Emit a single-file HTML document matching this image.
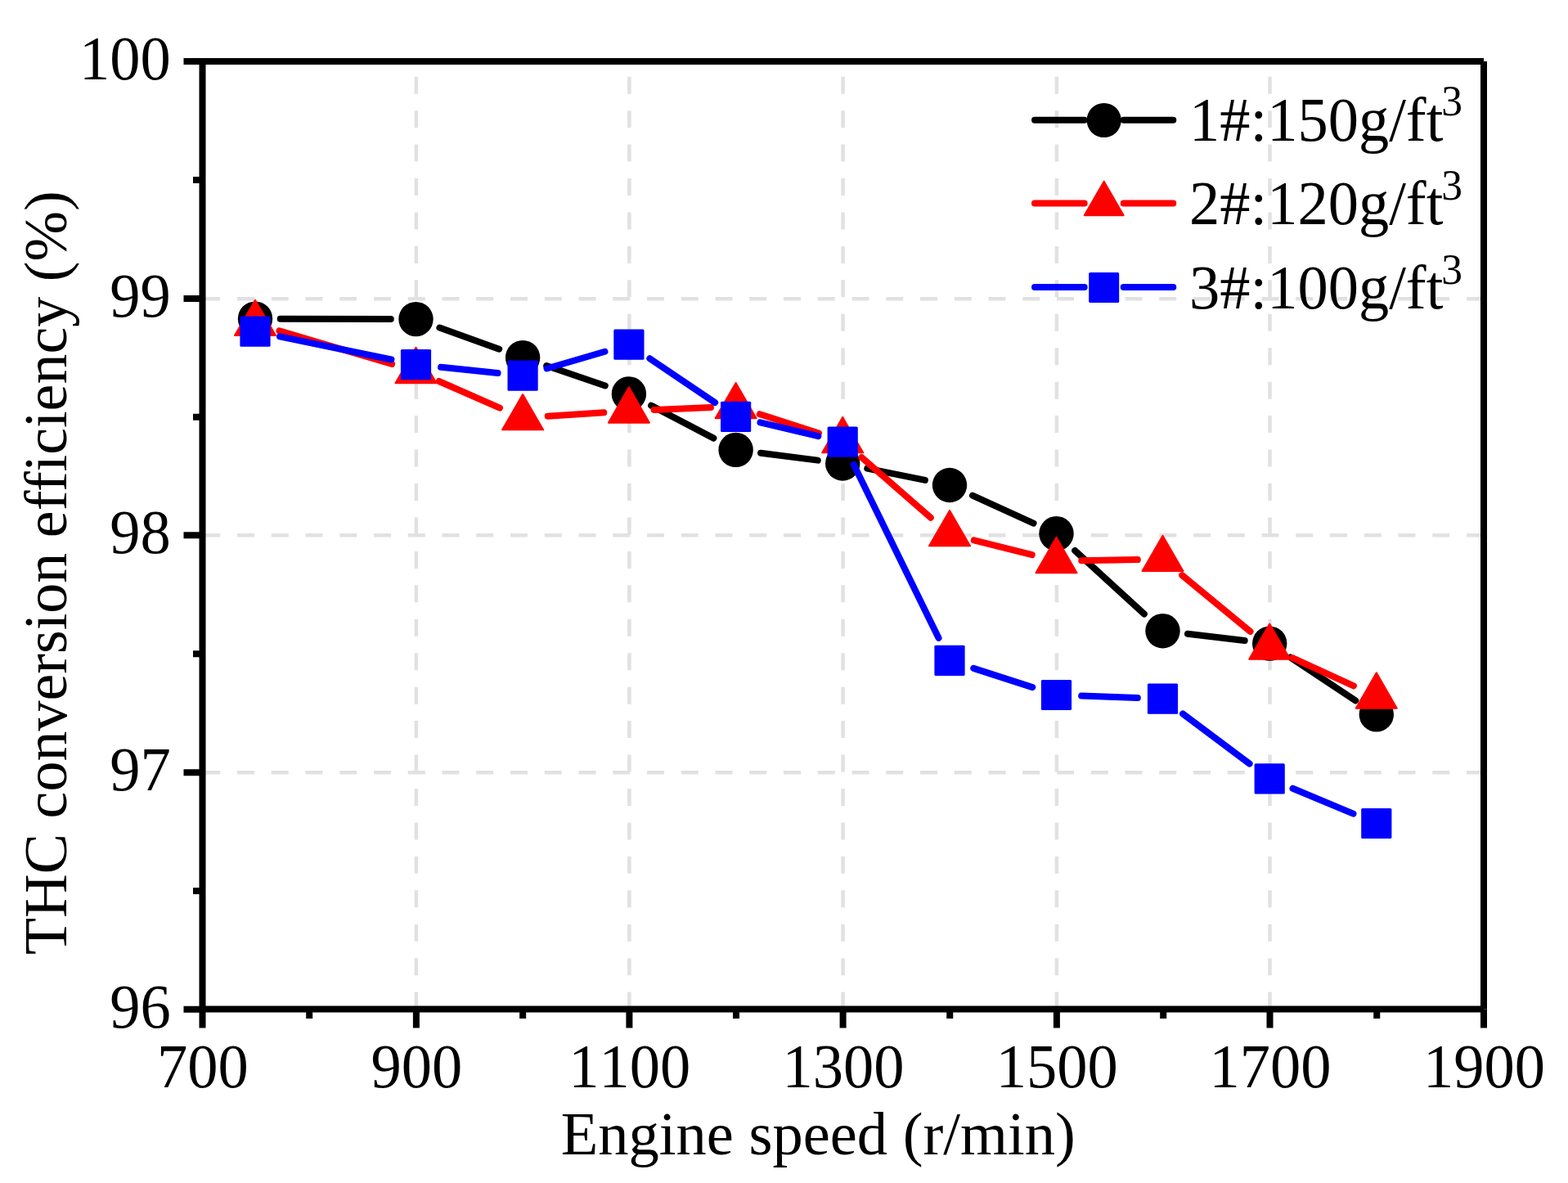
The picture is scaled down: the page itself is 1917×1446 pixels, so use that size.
<!DOCTYPE html><html><head><meta charset="utf-8"><style>html,body{margin:0;padding:0;background:#fff;}svg{display:block;}text{font-family:"Liberation Serif","Times New Roman",serif;fill:#000;font-kerning:none;font-feature-settings:"kern" 0;}</style></head><body>
<svg width="1917" height="1446" viewBox="0 0 1917 1446">
<rect x="0" y="0" width="1917" height="1446" fill="#fff"/>
<line x1="508.90" y1="1233.60" x2="508.90" y2="75.10" stroke="#e1e1e1" stroke-width="4.5" stroke-dasharray="21 20.44"/>
<line x1="769.40" y1="1233.60" x2="769.40" y2="75.10" stroke="#e1e1e1" stroke-width="4.5" stroke-dasharray="21 20.44"/>
<line x1="1030.60" y1="1233.60" x2="1030.60" y2="75.10" stroke="#e1e1e1" stroke-width="4.5" stroke-dasharray="21 20.44"/>
<line x1="1291.90" y1="1233.60" x2="1291.90" y2="75.10" stroke="#e1e1e1" stroke-width="4.5" stroke-dasharray="21 20.44"/>
<line x1="1552.50" y1="1233.60" x2="1552.50" y2="75.10" stroke="#e1e1e1" stroke-width="4.5" stroke-dasharray="21 20.44"/>
<line x1="1814.00" y1="365.15" x2="247.50" y2="365.15" stroke="#e1e1e1" stroke-width="4.5" stroke-dasharray="21 20.75"/>
<line x1="1814.00" y1="654.35" x2="247.50" y2="654.35" stroke="#e1e1e1" stroke-width="4.5" stroke-dasharray="21 20.75"/>
<line x1="1814.00" y1="944.35" x2="247.50" y2="944.35" stroke="#e1e1e1" stroke-width="4.5" stroke-dasharray="21 20.75"/>
<path d="M342.70 389.68L477.80 390.02M537.39 400.50L610.21 426.70M668.15 447.02L739.85 471.48M796.09 495.65L872.41 535.65M930.05 553.77L999.75 562.63M1060.29 572.60L1130.91 586.90M1188.96 605.68L1263.54 639.52M1314.15 672.93L1398.85 750.47M1451.99 774.79L1521.71 783.01M1577.78 803.58L1657.22 856.32" fill="none" stroke="#000" stroke-width="8" stroke-linecap="round"/>
<circle cx="312.00" cy="389.60" r="21.2" fill="#000"/>
<circle cx="508.50" cy="390.10" r="21.2" fill="#000"/>
<circle cx="639.10" cy="437.10" r="21.2" fill="#000"/>
<circle cx="768.90" cy="481.40" r="21.2" fill="#000"/>
<circle cx="899.60" cy="549.90" r="21.2" fill="#000"/>
<circle cx="1030.20" cy="566.50" r="21.2" fill="#000"/>
<circle cx="1161.00" cy="593.00" r="21.2" fill="#000"/>
<circle cx="1291.50" cy="652.20" r="21.2" fill="#000"/>
<circle cx="1421.50" cy="771.20" r="21.2" fill="#000"/>
<circle cx="1552.20" cy="786.60" r="21.2" fill="#000"/>
<circle cx="1682.80" cy="873.30" r="21.2" fill="#000"/>
<path d="M341.44 404.30L479.06 445.00M536.62 466.02L610.98 498.58M669.73 508.85L738.27 504.25M799.57 500.93L868.93 498.07M928.82 506.22L1000.98 529.48M1053.34 559.07L1137.86 632.73M1190.77 660.38L1261.73 678.22M1322.20 685.20L1390.80 684.10M1445.18 703.13L1528.52 771.87M1580.11 804.18L1654.89 838.42" fill="none" stroke="#f00" stroke-width="8" stroke-linecap="round"/>
<path d="M312.00 366.73L337.00 410.03L287.00 410.03Z" fill="#f00" stroke="#f00" stroke-width="2" stroke-linejoin="round"/>
<path d="M508.50 424.83L533.50 468.13L483.50 468.13Z" fill="#f00" stroke="#f00" stroke-width="2" stroke-linejoin="round"/>
<path d="M639.10 482.03L664.10 525.33L614.10 525.33Z" fill="#f00" stroke="#f00" stroke-width="2" stroke-linejoin="round"/>
<path d="M768.90 473.33L793.90 516.63L743.90 516.63Z" fill="#f00" stroke="#f00" stroke-width="2" stroke-linejoin="round"/>
<path d="M899.60 467.93L924.60 511.23L874.60 511.23Z" fill="#f00" stroke="#f00" stroke-width="2" stroke-linejoin="round"/>
<path d="M1030.20 510.03L1055.20 553.33L1005.20 553.33Z" fill="#f00" stroke="#f00" stroke-width="2" stroke-linejoin="round"/>
<path d="M1161.00 624.03L1186.00 667.33L1136.00 667.33Z" fill="#f00" stroke="#f00" stroke-width="2" stroke-linejoin="round"/>
<path d="M1291.50 656.83L1316.50 700.13L1266.50 700.13Z" fill="#f00" stroke="#f00" stroke-width="2" stroke-linejoin="round"/>
<path d="M1421.50 654.73L1446.50 698.03L1396.50 698.03Z" fill="#f00" stroke="#f00" stroke-width="2" stroke-linejoin="round"/>
<path d="M1552.20 762.53L1577.20 805.83L1527.20 805.83Z" fill="#f00" stroke="#f00" stroke-width="2" stroke-linejoin="round"/>
<path d="M1682.80 822.33L1707.80 865.63L1657.80 865.63Z" fill="#f00" stroke="#f00" stroke-width="2" stroke-linejoin="round"/>
<path d="M342.07 411.40L478.43 439.50M539.04 448.83L608.56 455.97M668.56 450.47L739.44 429.73M794.35 438.27L874.15 492.13M929.48 516.37L1000.32 533.13M1043.70 567.77L1147.50 779.83M1190.22 816.83L1262.28 840.07M1322.18 850.59L1390.82 853.01M1446.08 872.49L1527.62 933.51M1580.52 963.74L1654.48 994.66" fill="none" stroke="#00f" stroke-width="8" stroke-linecap="round"/>
<rect x="293.40" y="386.60" width="37.2" height="37.2" rx="1.5" fill="#00f"/>
<rect x="489.90" y="427.10" width="37.2" height="37.2" rx="1.5" fill="#00f"/>
<rect x="620.50" y="440.50" width="37.2" height="37.2" rx="1.5" fill="#00f"/>
<rect x="750.30" y="402.50" width="37.2" height="37.2" rx="1.5" fill="#00f"/>
<rect x="881.00" y="490.70" width="37.2" height="37.2" rx="1.5" fill="#00f"/>
<rect x="1011.60" y="521.60" width="37.2" height="37.2" rx="1.5" fill="#00f"/>
<rect x="1142.40" y="788.80" width="37.2" height="37.2" rx="1.5" fill="#00f"/>
<rect x="1272.90" y="830.90" width="37.2" height="37.2" rx="1.5" fill="#00f"/>
<rect x="1402.90" y="835.50" width="37.2" height="37.2" rx="1.5" fill="#00f"/>
<rect x="1533.60" y="933.30" width="37.2" height="37.2" rx="1.5" fill="#00f"/>
<rect x="1664.20" y="987.90" width="37.2" height="37.2" rx="1.5" fill="#00f"/>
<path d="M247.50 75.10H1814.00M1814.00 75.10V1233.60M1814.00 1233.60H247.50M247.50 1233.60V71.10" fill="none" stroke="#000" stroke-width="8"/>
<path d="M247.50 1233.60V1256.60M378.20 1233.60V1245.10M508.90 1233.60V1256.60M639.15 1233.60V1245.10M769.40 1233.60V1256.60M900.00 1233.60V1245.10M1030.60 1233.60V1256.60M1161.25 1233.60V1245.10M1291.90 1233.60V1256.60M1422.20 1233.60V1245.10M1552.50 1233.60V1256.60M1683.25 1233.60V1245.10M1814.00 1233.60V1256.60M247.50 1233.70H224.50M247.50 1089.00H236.00M247.50 944.30H224.50M247.50 799.30H236.00M247.50 654.30H224.50M247.50 509.70H236.00M247.50 365.10H224.50M247.50 220.05H236.00M251.50 75.00H224.50" stroke="#000" stroke-width="8" fill="none"/>
<text transform="translate(247.90,1329.3) scale(1,1.02)" font-size="74.5" text-anchor="middle">700</text>
<text transform="translate(509.30,1329.3) scale(1,1.02)" font-size="74.5" text-anchor="middle">900</text>
<text transform="translate(769.80,1329.3) scale(1,1.02)" font-size="74.5" text-anchor="middle">1100</text>
<text transform="translate(1031.00,1329.3) scale(1,1.02)" font-size="74.5" text-anchor="middle">1300</text>
<text transform="translate(1292.30,1329.3) scale(1,1.02)" font-size="74.5" text-anchor="middle">1500</text>
<text transform="translate(1552.90,1329.3) scale(1,1.02)" font-size="74.5" text-anchor="middle">1700</text>
<text transform="translate(1814.40,1329.3) scale(1,1.02)" font-size="74.5" text-anchor="middle">1900</text>
<text transform="translate(208.8,97.10) scale(1,1.02)" font-size="74.5" text-anchor="end">100</text>
<text transform="translate(208.8,387.20) scale(1,1.02)" font-size="74.5" text-anchor="end">99</text>
<text transform="translate(208.8,676.40) scale(1,1.02)" font-size="74.5" text-anchor="end">98</text>
<text transform="translate(208.8,966.40) scale(1,1.02)" font-size="74.5" text-anchor="end">97</text>
<text transform="translate(208.8,1255.80) scale(1,1.02)" font-size="74.5" text-anchor="end">96</text>
<text x="685.8" y="1411" font-size="74.5">Engine speed (r/min)</text>
<text transform="translate(81,1166.9) rotate(-90)" x="0" y="0" font-size="74.0" style="font-kerning:normal;font-feature-settings:normal">THC conversion efficiency (%)</text>
<path d="M1265 146.7H1325.70M1373.70 146.7H1434.3" stroke="#000" stroke-width="8" stroke-linecap="round" fill="none"/>
<circle cx="1349.70" cy="147.00" r="21.1" fill="#000"/>
<text transform="translate(1454,171.6) scale(1,1.02)" font-size="74.5">1#:150g/ft<tspan font-size="51.5" dx="-2" dy="-29.8">3</tspan></text>
<path d="M1265 248.6H1325.70M1373.70 248.6H1434.3" stroke="#f00" stroke-width="8" stroke-linecap="round" fill="none"/>
<path d="M1349.70 221.74L1373.65 263.23L1325.75 263.23Z" fill="#f00" stroke="#f00" stroke-width="2" stroke-linejoin="round"/>
<text transform="translate(1454,274.4) scale(1,1.02)" font-size="74.5">2#:120g/ft<tspan font-size="51.5" dx="-2" dy="-29.8">3</tspan></text>
<path d="M1265 351.0H1325.70M1373.70 351.0H1434.3" stroke="#00f" stroke-width="8" stroke-linecap="round" fill="none"/>
<rect x="1331.20" y="332.90" width="37.0" height="37.0" rx="1.5" fill="#00f"/>
<text transform="translate(1454,377.2) scale(1,1.02)" font-size="74.5">3#:100g/ft<tspan font-size="51.5" dx="-2" dy="-29.8">3</tspan></text>
</svg></body></html>
